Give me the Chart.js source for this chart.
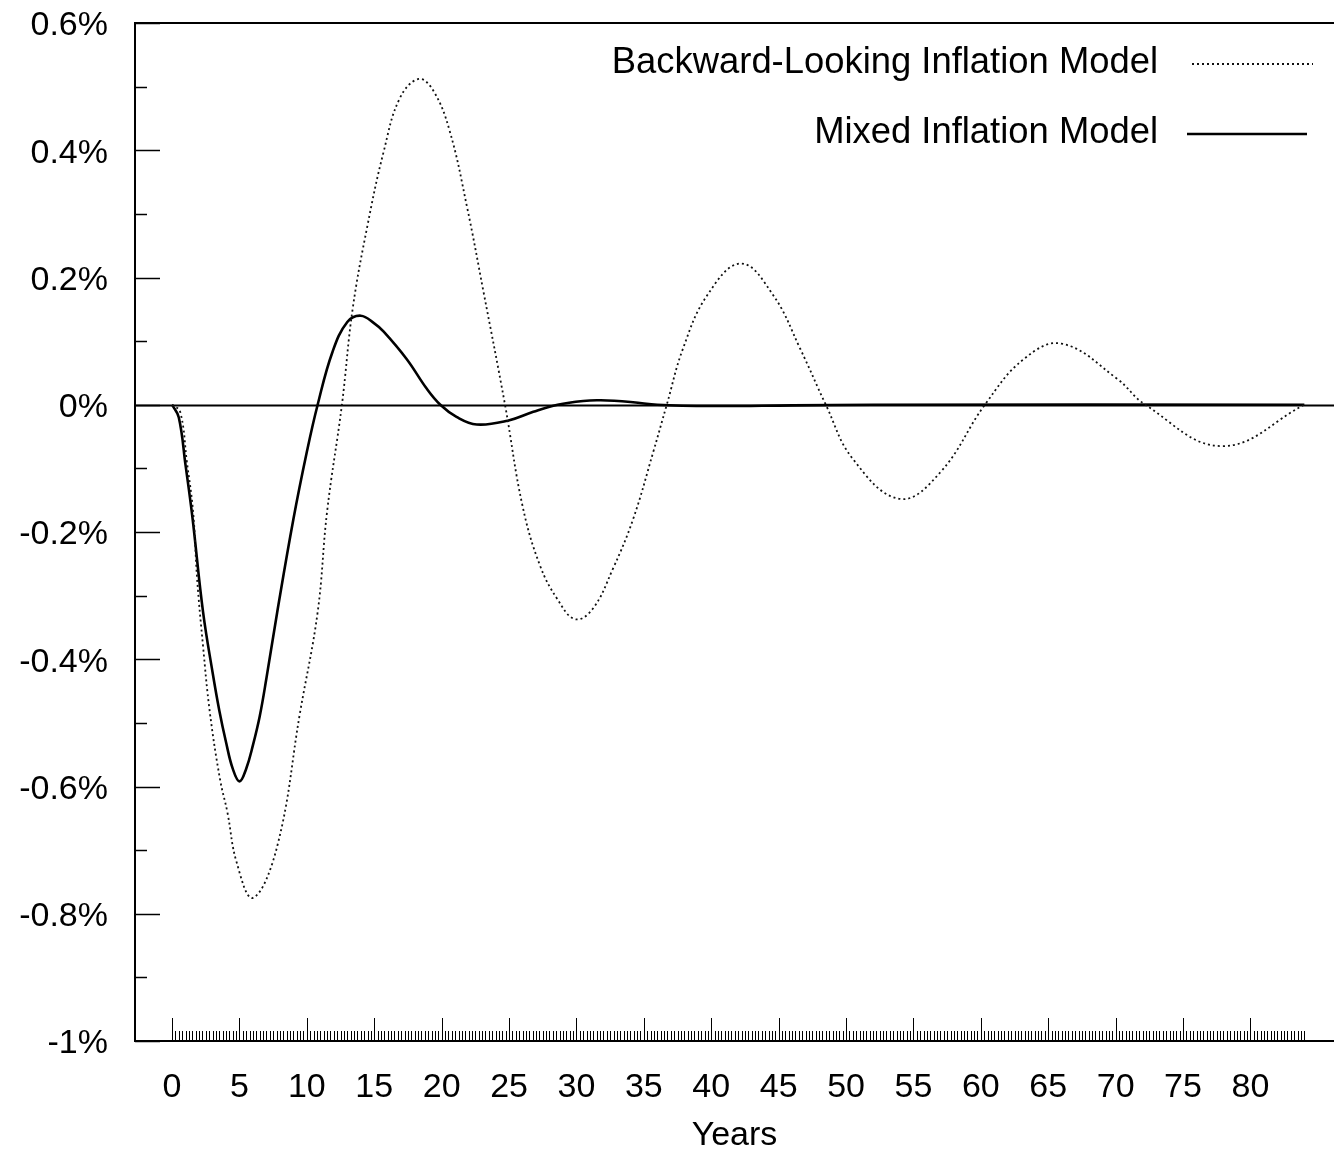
<!DOCTYPE html>
<html>
<head>
<meta charset="utf-8">
<title>Inflation response</title>
<script src="https://cdn.jsdelivr.net/npm/chart.js@4.4.1/dist/chart.umd.min.js"></script>
<style>
  html, body { margin: 0; padding: 0; background: #fff; }
  canvas { display: block; }
</style>
</head>
<body>
<canvas id="chart" width="1334" height="1150"></canvas>
<script>
// Response of inflation (percentage points) by year after the shock
const blYears = [0, 0.6, 1.1, 1.56, 1.86, 2.3, 2.8, 3.56, 4.1, 4.8, 6.0, 7.8, 9.5, 10.8, 11.5,
  12.6, 13.4, 14.5, 15.7, 16.9, 18.3, 19.4, 20.6, 21.9, 23.1, 24.7, 26.0, 27.3, 28.6, 29.9,
  31.2, 32.7, 34.2, 35.7, 36.7, 37.9, 39.7, 42.2, 44.6, 46.6, 48.5, 50.5, 54.0, 57.0, 60.3,
  63.2, 66.0, 70.1, 72.2, 77.9, 84.0];
const blValues = [0, -0.011, -0.09, -0.168, -0.274, -0.38, -0.483, -0.589, -0.64, -0.72, -0.775, -0.694, -0.483, -0.326, -0.168,
  0, 0.151, 0.282, 0.398, 0.482, 0.512, 0.493, 0.43, 0.309, 0.178, 0, -0.159, -0.253, -0.306, -0.337,
  -0.321, -0.258, -0.18, -0.074, 0, 0.088, 0.172, 0.222, 0.172, 0.088, 0, -0.085, -0.148, -0.106, 0,
  0.072, 0.096, 0.041, 0, -0.065, 0];

const mixYears = [0, 0.5, 1.0, 1.5, 2.3, 3.0, 3.5, 4.0, 4.5, 5.0, 5.5, 6.0, 6.5, 7.0, 7.8, 9.0, 10.0, 10.8, 11.9,
  13.0, 14.0, 15.0, 15.7, 17.4, 18.9, 19.9, 21.1, 22.6, 24.9, 26.8, 28.6, 30.5, 31.8, 34.2,
  36.0, 40.0, 46.0, 52.0, 84.0];
const mixValues = [0, -0.02, -0.095, -0.175, -0.326, -0.42, -0.48, -0.53, -0.572, -0.592, -0.572, -0.535, -0.49, -0.43, -0.326, -0.18, -0.074, 0, 0.083,
  0.13, 0.14, 0.128, 0.115, 0.072, 0.025, 0, -0.019, -0.031, -0.025, -0.011, 0, 0.006, 0.007, 0.004,
  0, -0.002, -0.001, 0, 0];

const xTickYears = [0, 5, 10, 15, 20, 25, 30, 35, 40, 45, 50, 55, 60, 65, 70, 75, 80];
const yTickValues = [-1, -0.8, -0.6, -0.4, -0.2, 0, 0.2, 0.4, 0.6];

const seriesLabels = ['Backward-Looking Inflation Model', 'Mixed Inflation Model'];
const axisTitle = 'Years';

const FONT = '"Liberation Sans", Arial, Helvetica, sans-serif';
Chart.defaults.font.family = FONT;
Chart.defaults.color = '#000';

const toPoints = (xs, ys) => xs.map((x, i) => ({ x, y: ys[i] }));

// Frame, zero line and the inward tick marks drawn from the scales
const framePlugin = {
  id: 'frame',
  beforeDatasetsDraw(chart) {
    const { ctx, chartArea: a, scales: { x, y } } = chart;
    ctx.save();
    ctx.strokeStyle = '#000';
    ctx.lineCap = 'butt';

    // zero line
    const y0 = Math.round(y.getPixelForValue(0)) + 0.5;
    ctx.lineWidth = 2;
    ctx.beginPath();
    ctx.moveTo(a.left, y0);
    ctx.lineTo(a.right, y0);
    ctx.stroke();

    // axis frame: left, top, bottom
    ctx.lineWidth = 2;
    ctx.beginPath();
    ctx.moveTo(a.right, a.top);
    ctx.lineTo(a.left, a.top);
    ctx.lineTo(a.left, a.bottom);
    ctx.lineTo(a.right, a.bottom);
    ctx.stroke();

    // y ticks: major every 0.2, minor halfway
    ctx.lineWidth = 1.5;
    yTickValues.forEach((v, i) => {
      const py = Math.round(y.getPixelForValue(v)) + 0.5;
      ctx.beginPath();
      ctx.moveTo(a.left, py);
      ctx.lineTo(a.left + 25, py);
      ctx.stroke();
      if (i < yTickValues.length - 1) {
        const mv = (v + yTickValues[i + 1]) / 2;
        const my = Math.round(y.getPixelForValue(mv)) + 0.5;
        ctx.beginPath();
        ctx.moveTo(a.left, my);
        ctx.lineTo(a.left + 12, my);
        ctx.stroke();
      }
    });

    // x ticks: one per quarter, taller every five years
    const lastYear = blYears[blYears.length - 1];
    ctx.lineWidth = 1;
    for (let q = 0; q <= lastYear * 4; q++) {
      const t = q / 4;
      const px = Math.round(x.getPixelForValue(t)) + 0.5;
      const h = (t % 5 === 0) ? 23 : 10;
      ctx.beginPath();
      ctx.moveTo(px, a.bottom);
      ctx.lineTo(px, a.bottom - h);
      ctx.stroke();
    }
    ctx.restore();
  }
};

// Legend: text on the left, line sample on the right
const legendPlugin = {
  id: 'sideLegend',
  afterDraw(chart) {
    const { ctx } = chart;
    const rows = [
      { textRight: 1158, textY: 63, lineFrom: 1192, lineTo: 1313, lineY: 64 },
      { textRight: 1158, textY: 133, lineFrom: 1187, lineTo: 1307, lineY: 134 }
    ];
    ctx.save();
    ctx.font = '36.4px ' + FONT;
    ctx.fillStyle = '#000';
    ctx.textAlign = 'right';
    ctx.textBaseline = 'middle';
    chart.data.datasets.forEach((ds, i) => {
      const r = rows[i];
      ctx.fillText(ds.label, r.textRight, r.textY);
      ctx.strokeStyle = ds.borderColor;
      ctx.lineWidth = ds.borderWidth;
      ctx.setLineDash(ds.borderDash || []);
      ctx.beginPath();
      ctx.moveTo(r.lineFrom, r.lineY);
      ctx.lineTo(r.lineTo, r.lineY);
      ctx.stroke();
    });
    ctx.restore();
  }
};

new Chart(document.getElementById('chart'), {
  type: 'line',
  data: {
    datasets: [
      {
        label: seriesLabels[0],
        data: toPoints(blYears, blValues),
        borderColor: '#111',
        borderWidth: 1.8,
        borderDash: [2, 3],
        pointRadius: 0,
        tension: 0.4,
        fill: false
      },
      {
        label: seriesLabels[1],
        data: toPoints(mixYears, mixValues),
        borderColor: '#000',
        borderWidth: 2.6,
        pointRadius: 0,
        tension: 0.4,
        fill: false
      }
    ]
  },
  options: {
    responsive: false,
    devicePixelRatio: 1,
    animation: false,
    layout: { padding: { top: 23, right: 0, bottom: 0, left: 0 } },
    plugins: {
      legend: { display: false },
      tooltip: { enabled: false }
    },
    scales: {
      x: {
        type: 'linear',
        min: -2.75,
        max: 86.2,
        afterBuildTicks: s => { s.ticks = xTickYears.map(v => ({ value: v })); },
        afterFit: s => { s.height = 109; s.paddingLeft = 0; s.paddingRight = 0; },
        grid: { display: false, drawTicks: false },
        border: { display: false },
        ticks: {
          autoSkip: false,
          maxRotation: 0,
          padding: 26,
          color: '#000',
          font: { size: 34 },
          callback: v => String(v)
        },
        title: {
          display: true,
          text: axisTitle,
          color: '#000',
          font: { size: 34 },
          padding: { top: 0, bottom: -6 }
        }
      },
      y: {
        type: 'linear',
        min: -1,
        max: 0.6,
        afterBuildTicks: s => { s.ticks = yTickValues.map(v => ({ value: v })); },
        afterFit: s => { s.width = 135; s.paddingTop = 0; s.paddingBottom = 0; },
        grid: { display: false, drawTicks: false },
        border: { display: false },
        ticks: {
          padding: 27,
          labelOffset: 3,
          color: '#000',
          font: { size: 34 },
          callback: v => (+v.toFixed(1)) + '%'
        }
      }
    }
  },
  plugins: [framePlugin, legendPlugin]
});
</script>
</body>
</html>
